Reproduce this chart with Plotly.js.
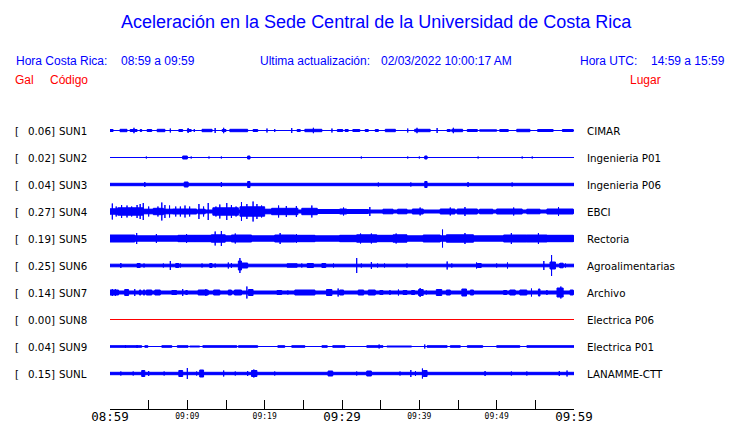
<!DOCTYPE html>
<html><head><meta charset="utf-8">
<script src="https://cdn.plot.ly/plotly-3.0.1.min.js"></script>
<style>html,body{margin:0;padding:0;background:#fff}</style>
</head><body>
<div id="chart" style="width:740px;height:423px"></div>
<script>
// ---------- data ----------
const codes = ['SUN1','SUN2','SUN3','SUN4','SUN5','SUN6','SUN7','SUN8','SUN9','SUNL'];
const galValues = ['0.06','0.02','0.04','0.27','0.19','0.25','0.14','0.00','0.04','0.15'];
const places = ['CIMAR','Ingenieria P01','Ingenieria P06','EBCI','Rectoria','Agroalimentarias','Archivo','Electrica P06','Electrica P01','LANAMME-CTT'];
const tickMinutes = [0,5,10,15,20,25,30,35,40,45,50,55,60];
const majorTickVals = [0,30,60];
const majorTickText = ['08:59','09:29','09:59'];
const minorTickVals = [10,20,40,50];
const minorTickText = ['09:09','09:19','09:39','09:49'];

// trace envelopes: base half-thickness, bursts [tStart,tEnd,half], spikes [t,half]  (minutes after 08:59, px)
const sun1Base = 0.5;
const sun1Bursts = [[0,0.4,1.5],[1.3,2.2,1.7],[2.6,3.5,1.5],[3.9,4.1,1.5],[4.8,5.4,1.5],[6.1,7.1,1.7],[8.9,9.4,1.5],[10.0,10.5,1.5],[11.9,13.2,1.7],[14.5,15.0,1.5],[15.5,17.8,1.7],[18.5,19.1,1.5],[24.2,24.6,1.5],[25.2,27.4,1.7],[29.4,30.1,1.5],[30.4,30.8,1.5],[31.4,32.3,1.5],[33.0,33.4,1.5],[34.3,34.7,1.5],[35.6,36.9,1.7],[39.4,41.4,1.7],[43.6,44.0,1.5],[44.2,45.6,1.7],[46.2,47.5,1.5],[47.8,50.0,1.2],[50.4,51.5,1.5],[52.6,54.3,1.7],[55.3,57.3,1.5],[58.5,59.9,1.5]];
const sun1Spikes = [[3.1,3.2],[7.8,2.5],[10.1,3],[10.9,2],[13.6,3],[14.7,3.2],[20.3,2.5],[21.3,2],[23.5,3],[26.3,3.2],[28.7,2.5],[38.5,2.5],[39.7,3.2],[42.3,3],[44.4,3.2]];

const sun2Base = 0.5;
const sun2Bursts = [[9.4,10.0,2],[17.8,18.1,2],[40.7,41.0,2]];
const sun2Spikes = [[4.7,1.5],[10.5,1.5],[12.8,1.5],[14.4,1.5],[32.5,1.5],[38.5,1.5],[40.0,1.5],[47.6,1.5],[53.3,1.5],[54.6,1.5]];

const sun3Base = 1.7;
const sun3Bursts = [[9.6,10.1,3],[17.8,18.1,3.5],[40.7,41.0,3.5]];
const sun3Spikes = [[4.5,3],[14.4,3],[34.7,2.5],[38.9,2.5],[46.3,3],[52.0,2.5]];

const sun4Base = 2;
const sun4Bursts = [[0,1.0,3.2],[1.0,4.3,4.2],[4.3,5.6,2.8],[5.6,6.9,3.7],[6.9,8.1,2.8],[8.1,11.2,3],[11.4,12.3,2.8],[13.3,16.6,4.2],[16.8,20.0,5.2],[20.0,20.9,2.8],[20.9,24.3,3.7],[24.8,26.8,3.7],[26.8,29.7,2.5],[29.7,30.6,3],[30.6,33.4,2.5],[35.3,36.6,2.8],[37.2,38.4,2.8],[39.1,40.5,3],[42.7,44.6,3],[44.9,47.5,3],[47.8,49.5,2.8],[50.0,53.3,3],[53.9,55.6,2.8],[56.5,59.9,3]];
const sun4Spikes = [[0.3,8.5],[0.8,5.5],[1.5,7],[2.2,6.5],[2.8,5.5],[3.5,7],[3.9,8],[4.3,9],[5.0,5.5],[6.2,5.5],[6.7,9.5],[7.1,7],[7.7,6.5],[8.5,5.5],[9.1,5.5],[9.7,6.5],[10.3,5.5],[11.5,8],[12.1,5.5],[12.7,9],[13.7,5.5],[14.2,7.5],[15.1,9],[15.7,7],[16.3,5.5],[17.0,10],[17.7,8],[18.5,10.5],[19.0,8],[19.6,6.5],[21.8,6.5],[22.8,6],[24.1,6],[26.1,6.5],[30.2,4.5],[33.6,5],[40.1,4.5],[44.0,4.5],[45.9,5],[52.2,4.5],[58.0,5]];

const sun5Base = 3.2;
const sun5Bursts = [[0,3.2,4],[8.8,11.0,3.7],[11.0,13.1,3.7],[13.1,14.9,4.2],[15.7,18.3,4],[21.3,23.9,4],[23.9,26.5,3.7],[29.7,31.9,3.7],[31.9,34.5,4.2],[34.5,36.6,3.7],[36.6,38.4,4.2],[40.5,42.7,4],[43.5,47.0,4.2],[50.9,53.9,4],[53.9,56.5,4],[56.5,59.9,3.7]];
const sun5Spikes = [[3.45,6],[6.0,5],[9.9,5],[13.6,7.5],[14.4,8],[16.2,5.5],[22.0,6],[24.1,5],[32.4,5.5],[33.8,5.5],[37.0,5.5],[43.0,9.5],[45.9,6],[51.9,6],[55.4,6]];

const sun6Base = 1.8;
const sun6Bursts = [[3.5,3.9,2.5],[8.5,8.9,2.5],[12.9,13.2,2.5],[16.6,17.0,5],[17.0,17.8,3],[22.9,24.2,2.2],[25.5,26.3,2.5],[27.4,27.9,2.5],[47.5,48.0,2.5],[56.9,57.6,4],[58.2,58.6,2.8]];
const sun6Spikes = [[1.4,3],[4.4,2.5],[6.9,2.5],[7.8,5],[9.1,2.5],[11.9,2.5],[13.6,2.5],[15.3,3.5],[15.7,3],[16.8,8],[24.8,2.5],[28.9,2.5],[31.9,8],[32.5,2.5],[33.8,4],[34.6,2.5],[35.5,2.5],[38.4,2.5],[43.6,4.5],[44.2,2.5],[47.4,3.5],[50.0,2.5],[51.4,3.5],[56.1,5],[57.1,11],[58.2,3],[58.9,2.5]];

const sun7Base = 2;
const sun7Bursts = [[0,1.1,3],[1.9,2.4,3.5],[3.8,4.0,3],[4.3,4.5,3],[4.7,5.4,3],[5.8,6.5,3],[8.0,8.6,2.5],[9.8,10.0,2.5],[11.4,12.7,3],[13.4,14.2,3],[15.3,15.7,3],[16.1,17.0,3],[17.9,18.5,3.5],[21.6,22.2,2.5],[23.9,26.5,3],[28.0,28.7,3.5],[29.7,30.2,3],[32.1,32.8,3],[33.4,34.3,3],[34.9,35.3,2.5],[37.9,38.4,2.5],[39.0,39.4,2.5],[39.9,40.5,3.5],[42.2,42.9,3.5],[43.5,44.0,3],[45.5,46.1,4],[46.6,47.0,3],[50.9,51.3,2.5],[51.7,52.4,3],[53.0,53.9,3],[55.4,55.6,4],[57.8,58.6,5],[59.5,59.9,3]];
const sun7Spikes = [[0.3,4],[0.7,4],[3.2,4],[9.4,4],[12.4,4],[17.7,6.5],[23.0,2.5],[29.5,4.5],[36.2,3],[37.3,3.5],[40.1,5],[40.9,2.5],[54.5,4.5],[56.5,3],[58.3,6.5]];

const sun9Base = 0.5;
const sun9Bursts = [[0,4.1,1.3],[4.5,4.9,1.3],[6.7,8.0,1.3],[8.7,10.1,1.3],[10.3,11.6,1],[12.0,16.4,1.3],[16.6,19.1,1.3],[21.7,22.6,1.3],[23.5,25.2,1.3],[27.4,28.1,1.3],[28.8,30.4,1.3],[33.2,35.3,1.3],[35.8,39.0,1],[41.0,43.6,1.3],[44.0,45.3,1.3],[46.2,48.2,1.3],[50.0,53.0,1.3],[53.9,60,1.3]];
const sun9Spikes = [[2.0,2],[3.5,2],[34.8,2.5],[40.7,2.5]];

const sunLBase = 1.7;
const sunLBursts = [[4.1,4.5,3.5],[8.9,9.4,3.5],[11.6,12.1,4],[18.3,19.0,3.5],[28.2,28.8,3],[33.2,33.8,3],[40.5,41.0,3.5]];
const sunLSpikes = [[1.4,2.5],[3.0,2.5],[5.0,3],[7.0,2.5],[10.0,6],[11.2,2.5],[14.7,3.5],[16.2,2.5],[17.8,3],[18.6,4.5],[21.3,2.5],[31.9,2.5],[37.5,2.5],[38.9,4],[39.5,3],[40.4,5.5],[48.5,3],[51.9,2.5],[53.9,2.5],[58.1,3],[59.1,3.5]];

// ---------- layout helpers ----------
const W = 740, H = 423, ML = 110, MR = 166, MT = 109, MB = 14;
const PW = W - ML - MR, PH = H - MT - MB;
const rowCenter = i => 21.5 + 27 * i;        // y axis is in pixels from plot top
const pxX = px => (px - ML) / PW;              // page px -> paper x
const pxY = py => (H - MB - py) / PH;          // page py -> paper y
const BLUE = '#0000ff', RED = '#ff0000';

const envelopes = [
  [sun1Base, sun1Bursts, sun1Spikes],
  [sun2Base, sun2Bursts, sun2Spikes],
  [sun3Base, sun3Bursts, sun3Spikes],
  [sun4Base, sun4Bursts, sun4Spikes],
  [sun5Base, sun5Bursts, sun5Spikes],
  [sun6Base, sun6Bursts, sun6Spikes],
  [sun7Base, sun7Bursts, sun7Spikes],
  null,
  [sun9Base, sun9Bursts, sun9Spikes],
  [sunLBase, sunLBursts, sunLSpikes]
];

const traces = [];
envelopes.forEach((env, i) => {
  const c = rowCenter(i);
  if (!env) {
    traces.push({x:[0,60], y:[c,c], mode:'lines', line:{color:RED, width:1}, hoverinfo:'skip', showlegend:false});
    return;
  }
  const xs = [], ys = [];
  const rect = (t0, t1, a) => {
    const h = Math.max(a - 0.5, 0);
    xs.push(t0, t1, t1, t0, t0, null);
    ys.push(c - h, c - h, c + h, c + h, c - h, null);
  };
  rect(0, 60, env[0]);
  env[1].forEach(b => rect(b[0], b[1], b[2]));
  env[2].forEach(s => rect(s[0], s[0], s[1]));
  traces.push({x:xs, y:ys, mode:'lines', fill:'toself', fillcolor:BLUE,
    line:{color:BLUE, width:1}, hoverinfo:'skip', showlegend:false});
});
// carriers for the label axes
traces.push({x:[0,60], y:[-50,-50], xaxis:'x2', mode:'markers', marker:{opacity:0}, hoverinfo:'skip', showlegend:false});
traces.push({x:[0,60], y:[-50,-50], xaxis:'x3', mode:'markers', marker:{opacity:0}, hoverinfo:'skip', showlegend:false});

const ann = [];
const txt = (text, px, py, opts) => ann.push(Object.assign({
  text, xref:'paper', yref:'paper', x:pxX(px), y:pxY(py), xanchor:'left', yanchor:'middle',
  showarrow:false, borderpad:0, borderwidth:0,
  font:{family:'Liberation Sans, Arial, sans-serif', size:12, color:BLUE}}, opts || {}));

txt('Aceleración en la Sede Central de la Universidad de Costa Rica', 376, 22, {xanchor:'center', font:{family:'Liberation Sans, Arial, sans-serif', size:18, color:BLUE}});
txt('Hora Costa Rica:', 15.5, 60.5);
txt('08:59 a 09:59', 121, 60.5);
txt('Ultima actualización:', 260, 60.5);
txt('02/03/2022 10:00:17 AM', 381, 60.5);
txt('Hora UTC:', 580, 60.5);
txt('14:59 a 15:59', 725, 60.5, {xanchor:'right'});
txt('Gal', 15, 80, {font:{family:'Liberation Sans, Arial, sans-serif', size:12, color:RED}});
txt('Código', 50, 80, {font:{family:'Liberation Sans, Arial, sans-serif', size:12, color:RED}});
txt('Lugar', 630, 80, {font:{family:'Liberation Sans, Arial, sans-serif', size:12, color:RED}});

const lblFont = {family:'DejaVu Sans, sans-serif', size:10.3, color:'#000'};
codes.forEach((code, i) => {
  const c = rowCenter(i);
  const base = {xref:'paper', yref:'y', y:c, yanchor:'middle', showarrow:false, borderpad:0, borderwidth:0, font:lblFont};
  ann.push(Object.assign({}, base, {text:'[', x:pxX(15), xanchor:'left'}));
  ann.push(Object.assign({}, base, {text:galValues[i] + ']', x:pxX(54.6), xanchor:'right'}));
  ann.push(Object.assign({}, base, {text:code, x:pxX(59), xanchor:'left'}));
  ann.push(Object.assign({}, base, {text:places[i], x:pxX(587.3), xanchor:'left'}));
});

const labelAxis = (vals, text, size, standoff) => ({range:[0,60], overlaying:'x', anchor:'y', side:'bottom',
  showgrid:false, zeroline:false, showline:false, ticks:'', tickmode:'array', tickvals:vals, ticktext:text,
  ticklabelstandoff:standoff,
  tickfont:{family:'DejaVu Sans Mono, monospace', size:size, color:'#000'}, fixedrange:true});

const layout = {
  width:W, height:H, margin:{l:ML, r:MR, t:MT, b:MB, pad:0},
  paper_bgcolor:'#fff', plot_bgcolor:'#fff', showlegend:false,
  xaxis:{range:[0,60], showgrid:false, zeroline:false, showline:true, linecolor:'#000', linewidth:1,
    ticks:'inside', ticklen:9, tickwidth:1, tickcolor:'#000', showticklabels:false,
    tickmode:'array', tickvals:tickMinutes, fixedrange:true},
  xaxis2:labelAxis(minorTickVals, minorTickText, 8, 1),
  xaxis3:labelAxis(majorTickVals, majorTickText, 12.5, -2),
  yaxis:{range:[PH,0], visible:false, fixedrange:true},
  annotations:ann
};
Plotly.newPlot('chart', traces, layout, {staticPlot:true, displayModeBar:false});
</script>
</body></html>
